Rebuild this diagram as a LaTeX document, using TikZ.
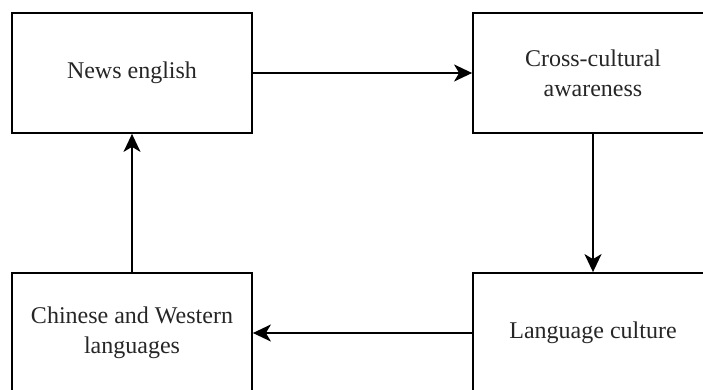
\documentclass[tikz,border=0pt]{standalone}
\usepackage{fontspec}
\setmainfont{Liberation Serif}
\usetikzlibrary{arrows.meta}
\begin{document}
\begin{tikzpicture}[x=1pt,y=-1pt,
  box/.style={draw, line width=1.8pt, minimum width=240pt, minimum height=120pt, inner sep=0pt,
    align=center, font=\fontsize{24}{30}\selectfont, text=black!85},
  conn/.style={line width=1.8pt, -{Stealth[length=18pt,width=17pt,inset=5pt]}}]
\useasboundingbox (0,0) rectangle (703,390);
\clip (0,0) rectangle (703,390);
\node[box] (news) at (132,73) {News english};
\node[box] (cross) at (593,73) {Cross-cultural\\awareness};
\node[box] (lang) at (593,333) {Language culture};
\node[box] (cw) at (132,333) {Chinese and Western\\languages};
\draw[conn] (news.east) -- (cross.west);
\draw[conn] (cross.south) -- (lang.north);
\draw[conn] (lang.west) -- (cw.east);
\draw[conn] (cw.north) -- (news.south);
\end{tikzpicture}
\end{document}
